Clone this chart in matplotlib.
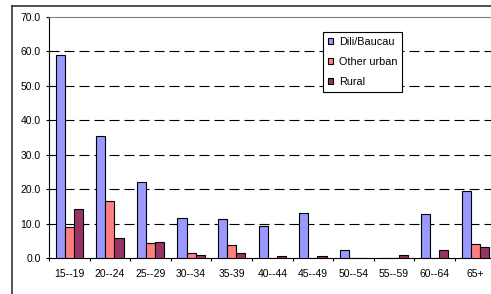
import matplotlib
matplotlib.use('Agg')
import matplotlib.pyplot as plt
import numpy as np
from matplotlib.lines import Line2D

plt.rcParams['font.family'] = ['Liberation Sans', 'DejaVu Sans']

# data
age_groups = ['15--19', '20--24', '25--29', '30--34', '35-39', '40--44',
              '45--49', '50--54', '55--59', '60--64', '65+']
dili_baucau = [59.0, 35.3, 22.2, 11.7, 11.3, 9.3, 13.2, 2.3, 0.0, 12.9, 19.5]
other_urban = [9.0, 16.6, 4.4, 1.6, 3.8, 0.0, 0.0, 0.0, 0.0, 0.0, 4.1]
rural = [14.4, 5.9, 4.7, 0.9, 1.5, 0.6, 0.6, 0.0, 0.9, 2.3, 3.2]
yticks = [0, 10, 20, 30, 40, 50, 60, 70]

W, H = 491, 294
fig = plt.figure(figsize=(W / 100, H / 100), dpi=100)

# plot area in pixels (the chart is cropped at right/bottom)
left, right, top, bottom = 49, 495.6, 16.7, 258.3
ax = fig.add_axes([left / W, (H - bottom) / H, (right - left) / W, (bottom - top) / H])

x = np.arange(len(age_groups))
bw = 0.225
ax.bar(x - bw, dili_baucau, bw, color='#9999FF', edgecolor='black', linewidth=0.8, label='Dili/Baucau', zorder=3)
ax.bar(x, other_urban, bw, color='#FF8080', edgecolor='black', linewidth=0.8, label='Other urban', zorder=3)
ax.bar(x + bw, rural, bw, color='#993366', edgecolor='black', linewidth=0.8, label='Rural', zorder=3)

ax.set_xlim(-0.5, len(age_groups) - 0.5)
ax.set_ylim(0, 70)

# dashed gridlines
for v in yticks[1:-1]:
    ax.axhline(v, color='black', linestyle=(0, (9, 4.5)), linewidth=0.8, zorder=1)

ax.set_yticks(yticks)
ax.set_yticklabels(['%.1f' % v for v in yticks], fontsize=7.5)
ax.tick_params(axis='y', length=2.5, width=0.8, pad=3.5)

ax.set_xticks(x)
ax.set_xticklabels(age_groups, fontsize=7.5)
ax.tick_params(axis='x', length=0, pad=8)
ax.set_xticks(np.arange(len(age_groups) + 1) - 0.5, minor=True)
ax.tick_params(axis='x', which='minor', length=2.5, width=0.8, direction='out')

ax.spines['top'].set_color('#808080')
ax.spines['top'].set_linewidth(0.8)
ax.spines['right'].set_visible(False)
ax.spines['left'].set_linewidth(0.8)
ax.spines['bottom'].set_linewidth(0.8)

leg = ax.legend(loc='upper left', bbox_to_anchor=((323 - left) / (right - left), 1 - (31.7 - top) / (bottom - top)),
                fontsize=7.8, frameon=True, fancybox=False, framealpha=1, handlelength=0.5, handleheight=0.5,
                handletextpad=0.5, labelspacing=0.95, borderpad=0.45, borderaxespad=0)
leg.get_frame().set_edgecolor('black')
leg.get_frame().set_linewidth(0.8)
leg.set_zorder(5)

# outer chart border (cropped)
fig.add_artist(Line2D([12 / W, 12 / W], [0, 1 - 5.7 / H], color='#333333', linewidth=1.2, transform=fig.transFigure))
fig.add_artist(Line2D([12 / W, 1.01], [1 - 5.7 / H, 1 - 5.7 / H], color='#333333', linewidth=1.2, transform=fig.transFigure))

fig.savefig('out.png', dpi=100)
